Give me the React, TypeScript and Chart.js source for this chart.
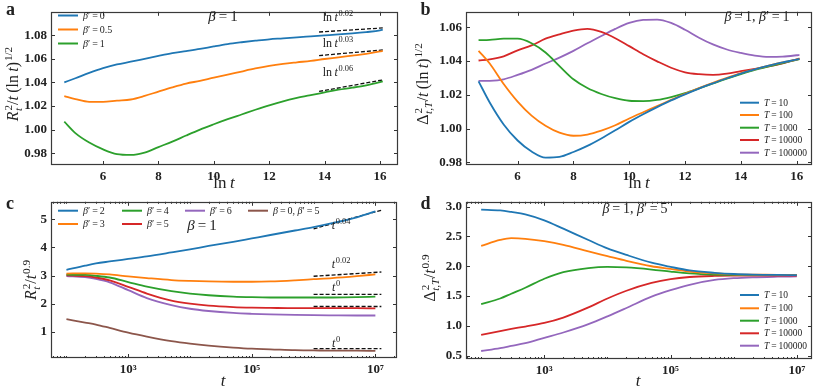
import React, { useEffect, useRef } from "react";
import { Chart, registerables } from "chart.js";
Chart.register(...registerables);

// ---------------- data ----------------
// panels a, b : x = ln t
const lnT = [4.6, 5, 5.5, 6, 6.5, 7, 7.5, 8, 8.5, 9, 9.5, 10, 10.5, 11, 11.5, 12, 12.5, 13, 13.5, 14, 14.5, 15, 15.5, 16, 16.1];

const aBetaPrime = ["0", "0.5", "1"];
const aBeta0 = [1.040, 1.0435, 1.048, 1.052, 1.0552, 1.0575, 1.060, 1.0625, 1.0648, 1.0665, 1.0683, 1.0705, 1.0725, 1.074, 1.0753, 1.0765, 1.0773, 1.0782, 1.079, 1.0798, 1.0806, 1.0815, 1.0826, 1.084, 1.0846];
const aBeta05 = [1.0283, 1.0258, 1.0235, 1.0234, 1.0245, 1.0255, 1.0285, 1.0322, 1.0358, 1.039, 1.0413, 1.044, 1.0465, 1.0492, 1.0518, 1.054, 1.0557, 1.057, 1.0582, 1.0598, 1.0612, 1.0627, 1.0642, 1.0662, 1.0667];
const aBeta1 = [1.0067, 0.997, 0.989, 0.9832, 0.9792, 0.9785, 0.9805, 0.9852, 0.9898, 0.995, 1.0, 1.0045, 1.0088, 1.0128, 1.0168, 1.0206, 1.024, 1.0268, 1.0292, 1.0315, 1.0338, 1.0355, 1.0375, 1.0402, 1.0408];
const aRefX = [13.8, 16.1];
const aRef0 = [1.0827, 1.0861];
const aRef05 = [1.0627, 1.0675];
const aRef1 = [1.0323, 1.0421];
const aRefExp = ["0.02", "0.03", "0.06"];
const aTicksX = [6, 8, 10, 12, 14, 16];
const aTicksY = [0.98, 1.0, 1.02, 1.04, 1.06, 1.08];

const bT = ["10", "100", "1000", "10000", "100000"];
const bT10 = [1.028, 1.0155, 1.0025, 0.993, 0.9865, 0.9829, 0.9833, 0.9862, 0.9898, 0.9942, 0.999, 1.004, 1.0085, 1.0127, 1.0167, 1.0203, 1.0237, 1.0268, 1.0298, 1.0326, 1.035, 1.0372, 1.0392, 1.0408, 1.0412];
const bT100 = [1.046, 1.0385, 1.0264, 1.016, 1.0077, 1.0017, 0.9976, 0.9958, 0.9965, 0.9988, 1.002, 1.006, 1.0097, 1.0133, 1.017, 1.0206, 1.024, 1.0271, 1.03, 1.0328, 1.0351, 1.0373, 1.0392, 1.0408, 1.0412];
const bT1000 = [1.0523, 1.0525, 1.0532, 1.0532, 1.0505, 1.045, 1.037, 1.0292, 1.024, 1.0205, 1.018, 1.0165, 1.0163, 1.017, 1.0187, 1.021, 1.0238, 1.0267, 1.0296, 1.0323, 1.0348, 1.0368, 1.0388, 1.0407, 1.0411];
const bT10000 = [1.0403, 1.041, 1.0428, 1.0463, 1.0492, 1.0532, 1.0558, 1.058, 1.059, 1.0572, 1.0535, 1.0488, 1.044, 1.0398, 1.036, 1.0333, 1.0322, 1.0318, 1.0325, 1.034, 1.0354, 1.0368, 1.0386, 1.041, 1.0415];
const bT100000 = [1.0282, 1.0283, 1.0292, 1.0318, 1.0348, 1.0385, 1.042, 1.046, 1.0505, 1.0548, 1.059, 1.0625, 1.0643, 1.0645, 1.0625, 1.0585, 1.0538, 1.0498, 1.0468, 1.0448, 1.0432, 1.0424, 1.0426, 1.0434, 1.0436];
const bTicksY = [0.98, 1.0, 1.02, 1.04, 1.06];

// panels c, d : x = t (log)
const tLog = [100, 200, 300, 500, 1e3, 2e3, 5e3, 1e4, 2e4, 5e4, 1e5, 2e5, 5e5, 1e6, 2e6, 5e6, 1e7];

const cLabels = ["2", "3", "4", "5", "6"];
const cB2 = [3.20, 3.35, 3.43, 3.50, 3.59, 3.68, 3.82, 3.93, 4.05, 4.20, 4.32, 4.44, 4.60, 4.72, 4.86, 5.07, 5.28];
const cB3 = [3.07, 3.08, 3.07, 3.04, 2.97, 2.91, 2.84, 2.81, 2.79, 2.78, 2.78, 2.79, 2.83, 2.87, 2.91, 2.98, 3.04];
const cB4 = [3.03, 3.02, 2.99, 2.93, 2.77, 2.61, 2.45, 2.36, 2.30, 2.25, 2.23, 2.22, 2.22, 2.22, 2.22, 2.23, 2.25];
const cB5 = [3.01, 2.98, 2.93, 2.83, 2.60, 2.36, 2.11, 2.00, 1.93, 1.88, 1.86, 1.85, 1.84, 1.84, 1.84, 1.84, 1.83];
const cB6 = [2.98, 2.94, 2.88, 2.76, 2.48, 2.20, 1.95, 1.82, 1.74, 1.67, 1.64, 1.62, 1.60, 1.59, 1.585, 1.58, 1.58];
const cB0B5 = [1.45, 1.33, 1.26, 1.14, 0.97, 0.83, 0.67, 0.58, 0.51, 0.44, 0.40, 0.38, 0.35, 0.34, 0.33, 0.33, 0.32];
const cRefT = [1e6, 1.25e7];
const cRef2 = [4.66, 5.32];
const cRef3 = [2.975, 3.125];
const cRef4 = [2.33, 2.33];
const cRef5 = [1.90, 1.90];
const cRefB = [0.40, 0.40];
const cRefExp = ["0.04", "0.02", "0", "0"];
const cTicksY = [1, 2, 3, 4, 5];
const logTicksX = [1e3, 1e5, 1e7];

const dT10 = [2.95, 2.935, 2.91, 2.87, 2.77, 2.63, 2.44, 2.30, 2.19, 2.06, 1.99, 1.93, 1.89, 1.87, 1.86, 1.855, 1.85];
const dT100 = [2.34, 2.44, 2.47, 2.46, 2.42, 2.36, 2.25, 2.17, 2.09, 2.00, 1.955, 1.91, 1.88, 1.865, 1.86, 1.855, 1.85];
const dT1000 = [1.365, 1.46, 1.54, 1.64, 1.79, 1.90, 1.97, 1.99, 1.98, 1.945, 1.91, 1.88, 1.86, 1.855, 1.85, 1.85, 1.85];
const dT10000 = [0.85, 0.915, 0.95, 0.99, 1.05, 1.14, 1.31, 1.46, 1.59, 1.72, 1.785, 1.82, 1.838, 1.843, 1.845, 1.845, 1.845];
const dT100000 = [0.58, 0.63, 0.665, 0.71, 0.80, 0.89, 1.03, 1.16, 1.30, 1.49, 1.60, 1.69, 1.77, 1.80, 1.815, 1.825, 1.83];
const dTicksY = [0.5, 1.0, 1.5, 2.0, 2.5, 3.0];

// ---------------- styling helpers ----------------
const SERIF = '"Liberation Serif", "DejaVu Serif", "Times New Roman", serif';
const COL = ["#1f77b4", "#ff7f0e", "#2ca02c", "#d62728", "#9467bd", "#8c564b"];
const INK = "#222";

type Tok = { t: string; it?: boolean; sup?: string; sub?: string; supIt?: boolean; subIt?: boolean };

function fnt(size: number, it = false, bold = false) {
  return `${it ? "italic " : ""}${bold ? "bold " : ""}${size}px ${SERIF}`;
}

function tokWidth(ctx: CanvasRenderingContext2D, tk: Tok, size: number) {
  ctx.font = fnt(size, tk.it);
  const w = ctx.measureText(tk.t).width;
  const s = size * 0.7;
  let ex = 0;
  if (tk.sup) { ctx.font = fnt(s, tk.supIt); ex = Math.max(ex, ctx.measureText(tk.sup).width); }
  if (tk.sub) { ctx.font = fnt(s, tk.subIt); ex = Math.max(ex, ctx.measureText(tk.sub).width); }
  return w + (ex ? ex + size * 0.06 : 0);
}

function drawRich(ctx: CanvasRenderingContext2D, toks: Tok[], x: number, y: number, size: number,
  align: "left" | "center" | "right" = "center", rot = 0, bold = false) {
  ctx.save();
  ctx.translate(x, y);
  if (rot) ctx.rotate(rot);
  const total = toks.reduce((a, t) => a + tokWidth(ctx, t, size), 0);
  let cx = align === "center" ? -total / 2 : align === "right" ? -total : 0;
  const base = size * 0.33;
  ctx.fillStyle = INK;
  ctx.textBaseline = "alphabetic";
  ctx.textAlign = "left";
  for (const tk of toks) {
    ctx.font = fnt(size, tk.it, bold);
    ctx.fillText(tk.t, cx, base);
    const w = ctx.measureText(tk.t).width;
    const s = size * 0.7;
    let ex = 0;
    if (tk.sup) {
      ctx.font = fnt(s, tk.supIt);
      ctx.fillText(tk.sup, cx + w + size * 0.06, base - size * 0.42);
      ex = Math.max(ex, ctx.measureText(tk.sup).width);
    }
    if (tk.sub) {
      ctx.font = fnt(s, tk.subIt);
      ctx.fillText(tk.sub, cx + w + size * 0.03, base + size * 0.24);
      ex = Math.max(ex, ctx.measureText(tk.sub).width);
    }
    cx += w + (ex ? ex + size * 0.06 : 0);
  }
  ctx.restore();
}

type Decor = {
  letter: { t: string; x: number; y: number };
  yTitle: { toks: Tok[]; x: number; y: number; size: number };
  xTitle: { toks: Tok[]; x: number; y: number; size: number };
  legend: { color: string; toks: Tok[]; x: number; y: number }[];
  legendSize: number;
  lineLen: number;
  texts: { toks: Tok[]; x: number; y: number; size: number }[];
  xMinor: number[];
};

function makeDecor(d: Decor) {
  return {
    id: "decor",
    afterDraw(chart: any) {
      const { ctx, chartArea: ca, scales } = chart;
      const xs = scales.x, ys = scales.y;
      ctx.save();
      ctx.strokeStyle = "#333";
      ctx.lineWidth = 1;
      const xTick = (v: number, len: number) => {
        const p = Math.round(xs.getPixelForValue(v)) + 0.5;
        if (p < ca.left + 1 || p > ca.right - 1) return;
        ctx.beginPath();
        ctx.moveTo(p, ca.bottom); ctx.lineTo(p, ca.bottom - len);
        ctx.moveTo(p, ca.top); ctx.lineTo(p, ca.top + len);
        ctx.stroke();
      };
      const yTick = (v: number, len: number) => {
        const p = Math.round(ys.getPixelForValue(v)) + 0.5;
        if (p < ca.top + 1 || p > ca.bottom - 1) return;
        ctx.beginPath();
        ctx.moveTo(ca.left, p); ctx.lineTo(ca.left + len, p);
        ctx.moveTo(ca.right, p); ctx.lineTo(ca.right - len, p);
        ctx.stroke();
      };
      xs.ticks.forEach((t: any) => xTick(t.value, 4));
      ys.ticks.forEach((t: any) => yTick(t.value, 4));
      d.xMinor.forEach((v) => xTick(v, 2));
      // frame
      ctx.lineWidth = 1.2;
      ctx.strokeStyle = "#3a3a3a";
      ctx.strokeRect(Math.round(ca.left) + 0.5, Math.round(ca.top) + 0.5,
        Math.round(ca.right - ca.left) - 1, Math.round(ca.bottom - ca.top) - 1);
      // legend
      for (const e of d.legend) {
        ctx.strokeStyle = e.color;
        ctx.lineWidth = 2;
        ctx.beginPath();
        ctx.moveTo(e.x, e.y); ctx.lineTo(e.x + d.lineLen, e.y);
        ctx.stroke();
        drawRich(ctx, e.toks, e.x + d.lineLen + 5, e.y, d.legendSize, "left");
      }
      for (const t of d.texts) drawRich(ctx, t.toks, t.x, t.y, t.size, "center");
      drawRich(ctx, d.yTitle.toks, d.yTitle.x, d.yTitle.y, d.yTitle.size, "center", -Math.PI / 2);
      drawRich(ctx, d.xTitle.toks, d.xTitle.x, d.xTitle.y, d.xTitle.size, "center");
      drawRich(ctx, [{ t: d.letter.t }], d.letter.x, d.letter.y, 18, "center", 0, true);
      ctx.restore();
    },
  };
}

const SUPD = "⁰¹²³⁴⁵⁶⁷⁸⁹";
const pow10Label = (v: number) => "10" + String(Math.round(Math.log10(v))).split("").map((c) => SUPD[+c]).join("");

function line(xs: number[], ys: number[], color: string) {
  return {
    data: xs.map((x, i) => ({ x, y: ys[i] })),
    borderColor: color, borderWidth: 1.8, pointRadius: 0, fill: false,
    cubicInterpolationMode: "monotone" as const,
  };
}
function dashed(xs: number[], ys: number[]) {
  return {
    data: xs.map((x, i) => ({ x, y: ys[i] })),
    borderColor: "#111", borderWidth: 1.3, pointRadius: 0, fill: false,
    borderDash: [4, 2], tension: 0,
  };
}

type PanelSpec = {
  datasets: any[];
  xType: "linear" | "logarithmic";
  xMin: number; xMax: number; xTicks: number[]; xFmt: (v: number) => string;
  yMin: number; yMax: number; yTicks: number[]; yFmt: (v: number) => string;
  yW: number; xH: number; padTop: number; padRight: number;
  decor: Decor;
};

const tickFont = { family: SERIF, size: 13, weight: "bold" as const };

function buildConfig(p: PanelSpec): any {
  return {
    type: "line",
    data: { datasets: p.datasets },
    plugins: [makeDecor(p.decor)],
    options: {
      animation: false,
      responsive: false,
      maintainAspectRatio: false,
      events: [],
      layout: { autoPadding: false, padding: { top: p.padTop, right: p.padRight, left: 0, bottom: 0 } },
      plugins: { legend: { display: false }, tooltip: { enabled: false } },
      scales: {
        x: {
          type: p.xType, min: p.xMin, max: p.xMax,
          grid: { display: false, drawTicks: false }, border: { display: false },
          afterBuildTicks: (s: any) => { s.ticks = p.xTicks.map((v) => ({ value: v })); },
          afterFit: (s: any) => { s.height = p.xH; },
          ticks: { autoSkip: false, maxRotation: 0, padding: 4, color: INK, font: tickFont,
            callback: (v: any) => p.xFmt(Number(v)) },
        },
        y: {
          type: "linear", min: p.yMin, max: p.yMax,
          grid: { display: false, drawTicks: false }, border: { display: false },
          afterBuildTicks: (s: any) => { s.ticks = p.yTicks.map((v) => ({ value: v })); },
          afterFit: (s: any) => { s.width = p.yW; },
          ticks: { autoSkip: false, padding: 4, color: INK, font: tickFont,
            callback: (v: any) => p.yFmt(Number(v)) },
        },
      },
    },
  };
}

function Panel({ spec, left, top, w, h }: { spec: () => PanelSpec; left: number; top: number; w: number; h: number }) {
  const ref = useRef<HTMLCanvasElement>(null);
  useEffect(() => {
    const chart = new Chart(ref.current as HTMLCanvasElement, buildConfig(spec()));
    return () => chart.destroy();
  }, []);
  return <canvas ref={ref} width={w} height={h} style={{ position: "absolute", left, top, width: w, height: h }} />;
}

// ---------------- math labels ----------------
const bp = (v: string): Tok[] => [{ t: "β", it: true }, { t: "′\u2009=\u2009" + v }];
const Tlab = (v: string): Tok[] => [{ t: "T", it: true }, { t: "\u2009=\u2009" + v }];
const lnTitle: Tok[] = [{ t: "ln" }, { t: "\u2009t", it: true }];
const tTitle: Tok[] = [{ t: "t", it: true }];
const lnPow = (e: string): Tok[] => [{ t: "ln" }, { t: "\u2009t", it: true, sup: e }];
const tPow = (e: string): Tok[] => [{ t: "t", it: true, sup: e }];
const logMinor = (): number[] => {
  const out: number[] = [];
  for (let n = 1; n <= 7; n++) for (let k = 1; k <= 9; k++) {
    const v = k * Math.pow(10, n);
    if (!logTicksX.includes(v)) out.push(v);
  }
  return out;
};

const specA = (): PanelSpec => ({
  datasets: [
    line(lnT, aBeta0, COL[0]), line(lnT, aBeta05, COL[1]), line(lnT, aBeta1, COL[2]),
    dashed(aRefX, aRef0), dashed(aRefX, aRef05), dashed(aRefX, aRef1),
  ],
  xType: "linear", xMin: 4.12, xMax: 16.65, xTicks: aTicksX, xFmt: (v) => String(v),
  yMin: 0.970, yMax: 1.0998, yTicks: aTicksY, yFmt: (v) => v.toFixed(2),
  yW: 51, xH: 25, padTop: 3, padRight: 7,
  decor: {
    letter: { t: "a", x: 10, y: 9 },
    yTitle: { toks: [{ t: "R", it: true, sub: "t", subIt: true, sup: "2" }, { t: "/" }, { t: "t", it: true }, { t: "\u2009(ln" }, { t: "\u2009t", it: true }, { t: ")", sup: "1/2" }], x: 13, y: 84, size: 16 },
    xTitle: { toks: lnTitle, x: 224, y: 182, size: 17 },
    legend: aBetaPrime.map((v, i) => ({ color: COL[i], toks: bp(v), x: 58, y: [15.5, 29.5, 43.5][i] })),
    legendSize: 10, lineLen: 20,
    texts: [
      { toks: [{ t: "β", it: true }, { t: "\u2009=\u20091" }], x: 223, y: 16, size: 15 },
      { toks: lnPow(aRefExp[0]), x: 338, y: 17, size: 12 },
      { toks: lnPow(aRefExp[1]), x: 338, y: 43, size: 12 },
      { toks: lnPow(aRefExp[2]), x: 338, y: 72, size: 12 },
    ],
    xMinor: [],
  },
});

const specB = (): PanelSpec => ({
  datasets: [bT10, bT100, bT1000, bT10000, bT100000].map((s, i) => line(lnT, s, COL[i])),
  xType: "linear", xMin: 4.15, xMax: 16.55, xTicks: aTicksX, xFmt: (v) => String(v),
  yMin: 0.9785, yMax: 1.0691, yTicks: bTicksY, yFmt: (v) => v.toFixed(2),
  yW: 61, xH: 25, padTop: 3, padRight: 2,
  decor: {
    letter: { t: "b", x: 20, y: 9 },
    yTitle: { toks: [{ t: "Δ", sub: "t,T", subIt: true, sup: "2" }, { t: "/" }, { t: "t", it: true }, { t: "\u2009(ln" }, { t: "\u2009t", it: true }, { t: ")", sup: "1/2" }], x: 18, y: 84, size: 16 },
    xTitle: { toks: lnTitle, x: 234, y: 182, size: 17 },
    legend: bT.map((v, i) => ({ color: COL[i], toks: Tlab(v), x: 335, y: [102.7, 115, 127.7, 140, 152.7][i] })),
    legendSize: 9.5, lineLen: 19,
    texts: [
      { toks: [{ t: "β", it: true }, { t: "\u2009=\u20091, " }, { t: "β", it: true }, { t: "′\u2009=\u20091" }], x: 352, y: 16, size: 14 },
    ],
    xMinor: [],
  },
});

const specC = (): PanelSpec => ({
  datasets: [
    ...[cB2, cB3, cB4, cB5, cB6, cB0B5].map((s, i) => line(tLog, s, COL[i])),
    dashed(cRefT, cRef2), dashed(cRefT, cRef3), dashed(cRefT, cRef4), dashed(cRefT, cRef5), dashed(cRefT, cRefB),
  ],
  xType: "logarithmic", xMin: Math.pow(10, 1.75), xMax: Math.pow(10, 7.35), xTicks: logTicksX, xFmt: pow10Label,
  yMin: 0.07, yMax: 5.62, yTicks: cTicksY, yFmt: (v) => String(v),
  yW: 51, xH: 31, padTop: 5, padRight: 8,
  decor: {
    letter: { t: "c", x: 10, y: 13 },
    yTitle: { toks: [{ t: "R", it: true, sub: "t", subIt: true, sup: "2" }, { t: "/" }, { t: "t", it: true, sup: "0.9" }], x: 31, y: 90, size: 16 },
    xTitle: { toks: tTitle, x: 223, y: 190, size: 17 },
    legend: [
      { color: COL[0], toks: bp(cLabels[0]), x: 58, y: 20.7 },
      { color: COL[1], toks: bp(cLabels[1]), x: 58, y: 34 },
      { color: COL[2], toks: bp(cLabels[2]), x: 122, y: 20.7 },
      { color: COL[3], toks: bp(cLabels[3]), x: 122, y: 34 },
      { color: COL[4], toks: bp(cLabels[4]), x: 185, y: 20.7 },
      { color: COL[5], toks: [{ t: "β", it: true }, { t: "\u2009=\u20090, " }, ...bp("5")], x: 248, y: 20.7 },
    ],
    legendSize: 10, lineLen: 20,
    texts: [
      { toks: [{ t: "β", it: true }, { t: "\u2009=\u20091" }], x: 202, y: 35, size: 15 },
      { toks: tPow(cRefExp[0]), x: 341, y: 35, size: 12 },
      { toks: tPow(cRefExp[1]), x: 341, y: 74, size: 12 },
      { toks: tPow(cRefExp[2]), x: 336, y: 97, size: 12 },
      { toks: tPow(cRefExp[3]), x: 336, y: 153, size: 12 },
    ],
    xMinor: logMinor(),
  },
});

const specD = (): PanelSpec => ({
  datasets: [dT10, dT100, dT1000, dT10000, dT100000].map((s, i) => line(tLog, s, COL[i])),
  xType: "logarithmic", xMin: Math.pow(10, 1.76), xMax: Math.pow(10, 7.24), xTicks: logTicksX, xFmt: pow10Label,
  yMin: 0.446, yMax: 3.08, yTicks: dTicksY, yFmt: (v) => v.toFixed(1),
  yW: 61, xH: 30, padTop: 6, padRight: 2,
  decor: {
    letter: { t: "d", x: 20, y: 13 },
    yTitle: { toks: [{ t: "Δ", sub: "t,T", subIt: true, sup: "2" }, { t: "/" }, { t: "t", it: true, sup: "0.9" }], x: 25, y: 88, size: 16 },
    xTitle: { toks: tTitle, x: 233, y: 190, size: 17 },
    legend: bT.map((v, i) => ({ color: COL[i], toks: Tlab(v), x: 335, y: [105, 118.3, 130.7, 143.3, 155.7][i] })),
    legendSize: 9.5, lineLen: 19,
    texts: [
      { toks: [{ t: "β", it: true }, { t: "\u2009=\u20091, " }, { t: "β", it: true }, { t: "′\u2009=\u20095" }], x: 230, y: 18, size: 14 },
    ],
    xMinor: logMinor(),
  },
});

export default function App() {
  return (
    <div style={{ position: "absolute", left: 0, top: 0, width: 814, height: 389, background: "#fff", overflow: "hidden" }}>
      <Panel spec={specA} left={0} top={0} w={405} h={190} />
      <Panel spec={specB} left={405} top={0} w={409} h={190} />
      <Panel spec={specC} left={0} top={190} w={405} h={199} />
      <Panel spec={specD} left={405} top={190} w={409} h={199} />
    </div>
  );
}
